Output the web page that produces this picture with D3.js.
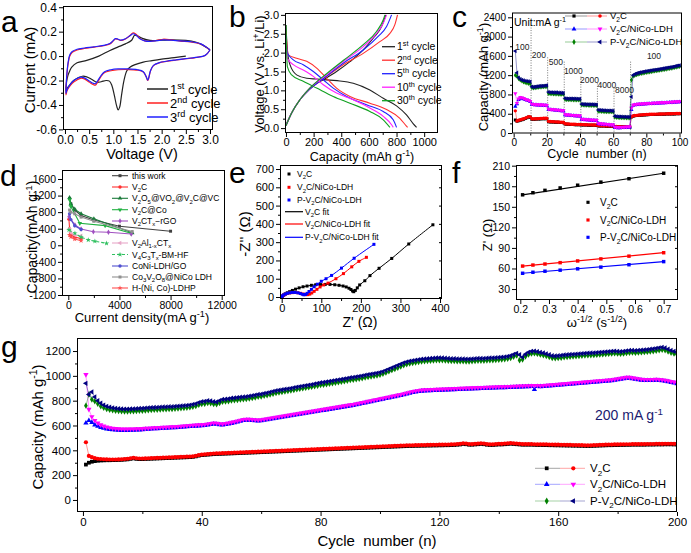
<!DOCTYPE html>
<html><head><meta charset="utf-8">
<script src="https://cdn.jsdelivr.net/npm/d3@7"></script>
<style>body{margin:0;background:#fff}svg{display:block}text{font-family:Arial,"Liberation Sans",sans-serif}</style>
</head><body><svg id="c" width="691" height="553"></svg>
<script>
// ================= DATA =================
// Panel a: cyclic voltammetry [V, mA]
const cvCycle1 = [[2.5,0.0],[2.3,-0.01],[2.0,-0.025],[1.8,-0.037],[1.62,-0.049],[1.45,-0.07],[1.35,-0.09],[1.28,-0.12],[1.22,-0.2],[1.17,-0.32],[1.13,-0.42],[1.1,-0.44],[1.07,-0.41],[1.02,-0.32],[0.97,-0.24],[0.92,-0.205],[0.85,-0.2],[0.75,-0.21],[0.66,-0.215],[0.55,-0.19],[0.45,-0.17],[0.36,-0.165],[0.28,-0.175],[0.18,-0.2],[0.1,-0.235],[0.05,-0.26],[0.02,-0.28],[0.03,-0.22],[0.06,-0.16],[0.1,-0.12],[0.14,-0.09],[0.25,-0.055],[0.45,-0.035],[0.7,0.0],[0.93,0.046],[1.1,0.075],[1.25,0.1],[1.38,0.13],[1.44,0.17],[1.5,0.165],[1.6,0.145],[1.76,0.128],[2.0,0.13],[2.17,0.133],[2.5,0.128],[2.7,0.115],[2.85,0.09],[2.95,0.065],[3.0,0.05]];
const cvCycle2 = [[3.0,0.05],[2.9,0.005],[2.7,-0.012],[2.5,-0.022],[2.3,-0.032],[2.1,-0.043],[1.95,-0.055],[1.83,-0.078],[1.77,-0.12],[1.73,-0.185],[1.71,-0.2],[1.68,-0.17],[1.62,-0.13],[1.5,-0.115],[1.3,-0.11],[1.1,-0.112],[0.95,-0.12],[0.82,-0.135],[0.74,-0.17],[0.68,-0.21],[0.63,-0.238],[0.58,-0.232],[0.5,-0.212],[0.4,-0.187],[0.32,-0.182],[0.24,-0.197],[0.15,-0.222],[0.08,-0.257],[0.04,-0.287],[0.02,-0.318],[0.025,-0.25],[0.04,-0.15],[0.07,-0.05],[0.1,0.0],[0.15,0.03],[0.25,0.05],[0.4,0.062],[0.6,0.073],[0.8,0.085],[0.93,0.1],[1.0,0.125],[1.04,0.14],[1.09,0.138],[1.15,0.128],[1.25,0.14],[1.35,0.17],[1.41,0.19],[1.47,0.178],[1.55,0.145],[1.65,0.125],[1.76,0.12],[1.9,0.128],[2.03,0.138],[2.2,0.132],[2.38,0.123],[2.6,0.116],[2.8,0.1],[2.93,0.07],[3.0,0.05]];
const cvCycle3 = [[3.0,0.05],[2.9,0.006],[2.7,-0.011],[2.5,-0.021],[2.3,-0.031],[2.1,-0.042],[1.95,-0.054],[1.83,-0.076],[1.77,-0.118],[1.73,-0.18],[1.71,-0.196],[1.68,-0.168],[1.62,-0.128],[1.5,-0.112],[1.3,-0.105],[1.1,-0.105],[0.95,-0.112],[0.82,-0.128],[0.74,-0.163],[0.68,-0.2],[0.63,-0.226],[0.58,-0.222],[0.5,-0.203],[0.4,-0.178],[0.32,-0.172],[0.24,-0.186],[0.15,-0.212],[0.08,-0.248],[0.04,-0.278],[0.02,-0.305],[0.025,-0.24],[0.04,-0.14],[0.07,-0.04],[0.1,0.01],[0.15,0.037],[0.25,0.056],[0.4,0.066],[0.6,0.076],[0.8,0.088],[0.93,0.103],[1.0,0.128],[1.04,0.143],[1.09,0.14],[1.15,0.13],[1.25,0.142],[1.35,0.168],[1.41,0.183],[1.47,0.172],[1.55,0.142],[1.65,0.124],[1.76,0.12],[1.9,0.126],[2.03,0.133],[2.2,0.13],[2.38,0.124],[2.6,0.118],[2.8,0.102],[2.93,0.072],[3.0,0.05]];
const cvLabels = ["1^{st} cycle","2^{nd} cycle","3^{rd} cycle"];

// Panel b: charge/discharge profiles [capacity mAh/g, V]
const gcd1D = [[0,2.73],[10,2.07],[29,1.68],[77,1.41],[150,1.32],[222,1.3],[318,1.27],[390,1.25],[487,1.19],[607,1.01],[704,0.79],[800,0.59],[872,0.35],[920,0.12],[945,0.02]];
const gcd1C = [[0,0.09],[41,0.4],[101,0.75],[173,1.06],[270,1.28],[366,1.5],[463,1.76],[559,2.07],[631,2.38],[692,2.69],[723,3.0]];
const gcd2D = [[0,2.56],[17,1.94],[77,1.85],[150,1.77],[222,1.59],[294,1.32],[366,1.06],[463,0.84],[607,0.66],[728,0.49],[824,0.26],[870,0.06],[880,0.02]];
const gcd2C = [[0,0.06],[41,0.4],[101,0.75],[173,1.03],[294,1.37],[414,1.68],[559,1.98],[679,2.29],[752,2.51],[788,2.74],[807,3.0]];
const gcd5D = [[0,2.47],[10,1.99],[53,1.81],[125,1.68],[198,1.5],[270,1.28],[342,1.06],[439,0.84],[583,0.62],[704,0.44],[776,0.22],[800,0.02]];
const gcd5C = [[0,0.06],[41,0.4],[101,0.75],[173,1.03],[294,1.38],[414,1.72],[559,2.07],[667,2.43],[728,2.69],[764,3.0]];
const gcd10D = [[0,2.38],[10,1.85],[53,1.68],[125,1.54],[198,1.37],[270,1.15],[366,0.93],[487,0.75],[607,0.53],[704,0.31],[764,0.09],[776,0.02]];
const gcd10C = [[0,0.06],[41,0.4],[101,0.75],[173,1.06],[294,1.41],[414,1.76],[559,2.16],[655,2.51],[704,2.78],[728,3.0]];
const gcd30D = [[0,2.73],[10,1.63],[41,1.41],[125,1.24],[222,1.06],[342,0.84],[463,0.66],[607,0.44],[704,0.22],[752,0.02]];
const gcd30C = [[0,0.06],[41,0.4],[101,0.75],[173,1.06],[294,1.44],[414,1.79],[559,2.21],[655,2.56],[704,2.87],[716,3.0]];
const gcdLabels = ["1^{st} cycle","2^{nd} cycle","5^{th} cycle","10^{th} cycle","30^{th} cycle"];

// Panel c: rate performance, cycles 1..100 (mAh/g)
const rateV2C_sq = [270,245,255,265,275,285,300,315,330,325, 287,285,287,289,291,293,295,297,297,297, 235,231,229,227,225,223,221,219,217,215, 185,182,180,178,176,175,174,173,172,170, 168,166,165,164,163,162,161,160,159,158, 148,146,145,144,143,142,141,140,139,138, 128,127,126,125,124,123,123,122,122,121, 330,348,356,361,365,368,371,374,376,378, 380,382,383,384,385,386,387,388,389,390, 391,392,393,394,395,396,397,398,399,400];
const rateV2C_ci = [460,250,265,275,285,295,310,325,340,335, 295,293,295,297,299,301,303,305,305,305, 242,238,236,234,232,230,228,226,224,222, 192,189,187,185,183,182,181,180,179,177, 175,173,172,171,170,169,168,167,166,165, 155,153,152,151,150,149,148,147,146,145, 135,134,133,132,131,130,130,129,129,128, 340,355,362,367,371,374,377,380,382,384, 386,388,389,390,391,392,393,394,395,396, 397,398,399,400,401,402,403,404,405,406];
const rateNiCo_up = [550,600,690,720,715,705,690,680,670,650, 590,585,582,580,578,576,574,572,570,568, 490,485,480,477,474,470,466,462,458,455, 375,370,367,364,361,358,355,352,350,348, 280,277,274,271,268,265,262,260,258,256, 190,186,182,178,175,172,169,166,164,162, 112,108,106,106,108,110,112,114,116,118, 480,570,580,585,590,593,596,599,601,603, 605,607,609,611,613,615,617,619,621,623, 625,627,629,631,633,635,637,639,641,643];
const rateNiCo_dn = [820,620,710,740,730,720,700,690,680,660, 600,595,590,590,588,586,584,582,580,578, 500,495,490,487,484,480,476,472,468,465, 385,380,377,374,371,368,365,362,360,358, 290,287,284,281,278,275,272,270,268,266, 200,196,192,188,185,182,179,176,174,172, 125,120,118,118,120,122,124,126,128,130, 520,580,590,595,600,603,606,609,611,613, 615,617,619,621,623,625,627,629,631,633, 635,637,639,641,643,645,647,649,651,653];
const rateP_di = [1200,1180,1130,1100,1080,1060,1050,1040,1030,1020, 940,935,940,945,950,955,955,960,965,968, 820,815,815,812,810,810,808,806,805,805, 700,695,695,692,692,690,690,688,688,688, 585,582,580,578,577,576,575,574,573,572, 455,452,450,448,446,445,444,443,442,440, 330,326,324,322,320,318,317,316,315,314, 1100,1180,1195,1210,1220,1230,1238,1245,1252,1258, 1264,1270,1276,1282,1288,1293,1298,1304,1310,1316, 1322,1328,1334,1340,1346,1352,1360,1368,1375,1382];
const rateP_lt = [1700,1250,1150,1120,1100,1090,1080,1075,1070,1065, 960,955,960,965,970,975,975,980,985,990, 850,845,845,840,840,840,835,835,830,830, 720,715,715,715,715,712,712,710,710,710, 600,598,597,596,595,594,593,592,590,590, 480,475,472,470,468,466,465,463,462,460, 350,345,342,340,338,336,335,333,332,330, 750,1200,1220,1235,1245,1255,1262,1270,1276,1282, 1288,1294,1300,1305,1310,1315,1320,1326,1332,1338, 1344,1350,1356,1362,1368,1374,1382,1390,1398,1405];
const rateSeriesNames = ["V_{2}C","V_{2}C/NiCo-LDH","P-V_{2}C/NiCo-LDH"];
const rateSteps = ["100","200","500","1000","2000","4000","8000","100"];
const rateStepLabelAt = [[5.3,1790],[15.2,1618],[25.5,1479],[36,1286],[45.7,1100],[56.2,996],[66.8,892],[84.6,1598]];
const rateDividers = [[10.5,2240],[20.5,1570],[30.5,1480],[40.5,1170],[50.5,1030],[60.5,930],[70.5,1480]];

// Panel d: comparison [current density mA/g, capacity mAh/g]
const cmpNames = ["this work","V_{2}C","V_{2}O_{5}@VO_{2}@V_{2}C@VC","V_{2}C@Co","V_{2}CT_{x}−rGO","V_{2}Al_{1-x}CT_{x}","V_{4}C_{3}T_{x}-BM-HF","CoNi-LDH/GO","Co_{3}V_{2}O_{8}@NiCo LDH","H-(Ni, Co)-LDHP"];
const cmpThisWork = [[100,1130],[200,1000],[500,850],[1000,720],[2000,610],[4000,460],[8000,340]];
const cmpV2C = [[50,630],[100,400],[200,260],[500,200],[1000,160]];
const cmpV2O5 = [[100,1150],[200,1000],[500,870],[1000,760],[2000,640],[5000,300]];
const cmpV2CCo = [[100,1100],[200,937],[900,530],[2880,475],[4900,290]];
const cmpV2CrGO = [[50,690],[520,490],[1000,393],[1960,328],[3140,313],[4930,273]];
const cmpV2Al = [[100,400],[200,300],[500,250],[1000,230]];
const cmpV4C3 = [[50,370],[520,290],[1000,195],[1560,128],[2080,97],[2990,48]];
const cmpCoNi = [[100,760],[200,620],[500,470],[1000,380]];
const cmpCo3V2O8 = [[100,850],[200,800],[500,760],[1000,680],[2000,580],[5000,330]];
const cmpHNiCo = [[100,250],[200,200],[500,150],[1000,110]];

// Panel e: Nyquist [Z', -Z''] (ohm)
const eisV2C = [[0,1],[2,5],[5,11],[9,17],[14,23],[20,29],[27,36],[35,43],[44,50],[54,56],[64,60],[75,64],[86,67],[98,68],[110,69],[122,69],[134,67],[145,64],[155,60],[163,55],[170,48],[175,41],[179,33],[182,29],[186,36],[191,50],[197,66],[210,89],[223,117],[246,157],[278,211],[321,290],[382,395]];
const eisNiCo = [[0,1],[2,5],[5,10],[9,15],[14,19],[20,22],[27,24],[34,25],[41,23],[48,20],[55,16],[61,13],[66,13],[71,16],[76,22],[82,31],[89,42],[97,55],[106,66],[117,76],[137,100],[156,128],[177,165],[195,195],[214,217]];
const eisP = [[0,1],[2,6],[5,11],[9,16],[14,20],[20,23],[27,25],[34,25],[41,23],[47,19],[52,15],[56,12],[60,14],[64,20],[69,30],[75,42],[82,56],[90,70],[100,86],[112,100],[126,118],[151,158],[183,212],[233,288]];
const eisNames = ["V_{2}C","V_{2}C/NiCo-LDH","P-V_{2}C/NiCo-LDH","V_{2}C fit","V_{2}C/NiCo-LDH fit","P-V_{2}C/NiCo-LDH fit"];

// Panel f: Z' vs omega^-1/2
const wInv = [0.208,0.244,0.286,0.339,0.40,0.481,0.579,0.70];
const zreV2C = [167.5,170.5,174,177.5,181.5,186,191,199];
const zreNiCo = [63.5,65,66.5,68.5,71,74,78,83];
const zreP = [53,54.5,56,57.5,59.5,62,65.5,70];

// Panel g: long cycling at 200 mA/g, cycles 1..200
const cyc_V2C_sq = [285,300,308,313,316,318,319,320,320,321, 321,322,323,325,327,331,335,331,329,329, 330,331,332,333,334,335,336,337,338,339, 340,341,342,343,344,345,347,351,357,361, 363,365,367,369,370,371,372,373,374,375, 376,377,378,379,380,381,382,383,384,385, 386,387,388,389,390,391,392,393,394,395, 396,397,398,399,400,401,402,403,404,405, 406,407,408,409,410,411,412,413,414,415, 416,417,418,419,420,421,422,423,424,425, 426,427,428,429,430,431,432,433,434,435, 435,436,436,437,437,438,438,439,439,440, 440,441,441,442,443,445,447,451,449,445, 445,447,449,451,449,445,443,443,445,447, 447,449,451,453,451,449,447,445,445,445, 445,444,443,443,442,442,441,441,440,440, 439,439,438,438,437,437,436,436,435,435, 435,436,437,438,439,440,441,441,442,442, 443,443,444,444,445,445,445,445,445,446, 446,446,447,447,447,448,448,448,447,447];
const cyc_V2C_ci = [465,355,345,337,332,330,328,327,326,326, 326,327,328,330,332,336,340,336,334,334, 335,336,337,338,339,340,341,342,343,344, 345,346,347,348,349,350,352,356,362,366, 368,370,372,374,375,376,377,378,379,380, 381,382,383,384,385,386,387,388,389,390, 391,392,393,394,395,396,397,398,399,400, 401,402,403,404,405,406,407,408,409,410, 411,412,413,414,415,416,417,418,419,420, 421,422,423,424,425,426,427,428,429,430, 431,432,433,434,435,436,437,438,439,440, 440,441,441,442,442,443,443,444,444,445, 445,446,446,447,448,450,452,456,454,450, 450,452,454,456,454,450,448,448,450,452, 452,454,456,458,456,454,452,450,450,450, 450,449,448,448,447,447,446,446,445,445, 444,444,443,443,442,442,441,441,440,440, 440,441,442,443,444,445,446,446,447,447, 448,448,449,449,450,450,450,450,450,451, 451,451,452,452,452,453,453,453,452,452];
const cyc_NiCo_up = [620,640,625,605,595,585,578,572,568,565, 563,561,560,560,560,561,562,563,564,565, 569,570,572,573,574,576,577,578,580,581, 582,584,586,588,590,592,594,595,597,598, 600,604,608,612,610,606,604,608,612,617, 622,628,634,640,642,642,640,638,636,638, 642,646,650,654,658,662,666,670,674,678, 682,686,690,694,698,702,706,710,714,718, 722,726,730,734,738,742,746,750,754,758, 762,767,772,777,782,787,792,797,802,807, 812,817,822,827,832,837,842,848,854,860, 866,870,874,877,879,880,881,882,883,884, 885,886,887,888,889,890,891,892,893,894, 895,896,897,898,899,900,901,902,903,904, 904,905,906,907,908,909,910,911,912,913, 914,890,914,913,914,916,918,920,922,924, 926,928,930,932,934,936,938,940,942,944, 946,948,950,952,954,956,958,960,964,968, 972,976,980,980,976,972,968,964,962,962, 962,963,964,962,960,956,952,947,942,937];
const cyc_NiCo_dn = [1010,730,670,640,620,605,595,587,582,578, 575,573,572,571,571,572,572,573,574,575, 577,578,580,581,582,584,585,586,588,589, 590,592,594,596,598,600,602,603,605,606, 608,612,616,620,618,614,612,616,620,625, 630,636,642,648,650,650,648,646,644,646, 650,654,658,662,666,670,674,678,682,686, 690,694,698,702,706,710,714,718,722,726, 730,734,738,742,746,750,754,758,762,766, 770,775,780,785,790,795,800,805,810,815, 820,825,830,835,840,845,850,856,862,868, 874,878,882,885,887,888,889,890,891,892, 893,894,895,896,897,898,899,900,901,902, 903,904,905,906,907,908,909,910,911,912, 912,913,914,915,916,917,918,919,920,921, 922,923,922,921,922,924,926,928,930,932, 934,936,938,940,942,944,946,948,950,952, 954,956,958,960,962,964,966,968,972,976, 980,984,988,988,984,980,976,972,970,970, 970,971,972,970,968,964,960,955,950,945];
const cyc_P_di = [760,850,810,795,775,755,742,733,727,722, 718,716,714,713,713,714,715,716,718,719, 721,723,725,726,727,729,731,731,733,733, 735,737,739,741,743,746,751,756,766,773, 776,781,779,773,771,781,791,793,796,801, 803,806,809,811,813,817,821,826,831,833, 839,843,849,855,861,865,869,873,877,881, 886,891,895,899,903,907,911,916,921,926, 929,933,937,941,945,949,953,957,961,966, 969,973,977,981,986,991,995,999,1003,1009, 1016,1026,1036,1046,1056,1066,1076,1086,1093,1099, 1103,1107,1111,1115,1117,1119,1121,1123,1125,1126, 1125,1123,1121,1119,1119,1118,1117,1117,1116,1116, 1117,1119,1121,1121,1121,1123,1125,1126,1127,1129, 1131,1133,1137,1143,1153,1163,1125,1131,1156,1171, 1179,1181,1177,1171,1166,1159,1151,1143,1141,1143, 1146,1149,1151,1153,1155,1157,1159,1161,1163,1165, 1166,1167,1169,1171,1173,1175,1177,1179,1181,1179, 1177,1179,1183,1186,1187,1185,1187,1189,1191,1193, 1196,1199,1203,1207,1211,1206,1196,1186,1179,1173];
const cyc_P_lt = [940,850,870,830,800,780,765,755,748,742, 738,735,733,732,732,733,734,735,737,738, 740,742,744,745,746,748,750,750,752,752, 754,756,758,760,762,765,770,775,785,792, 795,800,798,792,790,800,810,812,815,820, 822,825,828,830,832,836,840,845,850,852, 858,862,868,874,880,884,888,892,896,900, 905,910,914,918,922,926,930,935,940,945, 948,952,956,960,964,968,972,976,980,985, 988,992,996,1000,1005,1010,1014,1018,1022,1028, 1035,1045,1055,1065,1075,1085,1095,1105,1112,1118, 1122,1126,1130,1134,1136,1138,1140,1142,1144,1145, 1144,1142,1140,1138,1138,1137,1136,1136,1135,1135, 1136,1138,1140,1140,1140,1142,1144,1145,1146,1148, 1150,1152,1156,1162,1172,1182,1170,1150,1175,1190, 1198,1200,1196,1190,1185,1178,1170,1162,1160,1162, 1165,1168,1170,1172,1174,1176,1178,1180,1182,1184, 1185,1186,1188,1190,1192,1194,1196,1198,1200,1198, 1196,1198,1202,1205,1206,1204,1206,1208,1210,1212, 1215,1218,1222,1226,1230,1225,1215,1205,1198,1192];

// ================= HELPERS =================
const svg = d3.select('#c');
let clipN = 0;
function rich(t, s, fs){
  const parts = s.split(/(_\{[^}]*\}|\^\{[^}]*\})/).filter(p=>p.length);
  let cur = 0;
  for (const p of parts){
    let target = 0, txt = p, small = false;
    if (p[0]==='_' && p[1]==='{'){ target = fs*0.28; txt = p.slice(2,-1); small = true; }
    else if (p[0]==='^' && p[1]==='{'){ target = -fs*0.38; txt = p.slice(2,-1); small = true; }
    const ts = t.append('tspan').attr('dy', target-cur).text(txt);
    if (small) ts.attr('font-size', fs*0.7);
    cur = target;
  }
}
function label(txt, x, y, fs, opt={}){
  const t = svg.append('text').attr('font-size',fs).attr('fill',opt.color||'#000')
    .attr('text-anchor',opt.anchor||'start').style('white-space','pre');
  if (opt.rot) t.attr('transform',`translate(${x},${y}) rotate(${opt.rot})`);
  else t.attr('x',x).attr('y',y);
  rich(t, txt, fs);
  return t;
}
const num = v => String(+v.toFixed(6));
function makePanel(o){
  const x = d3.scaleLinear().domain(o.xd).range([o.l,o.r]);
  const y = d3.scaleLinear().domain(o.yd).range([o.b,o.t]);
  const id = 'clip'+(++clipN);
  svg.append('clipPath').attr('id',id).append('rect')
    .attr('x',o.l).attr('y',o.t).attr('width',o.r-o.l).attr('height',o.b-o.t);
  const data = svg.append('g').attr('clip-path',`url(#${id})`);
  const top = svg.append('g');
  const tf = o.tfs||11;
  const style = sel => { sel.select('.domain').remove(); sel.attr('font-size',tf).attr('font-family','Arial, "Liberation Sans", sans-serif'); sel.selectAll('line').attr('stroke','#000'); sel.selectAll('text').attr('fill','#000'); };
  if (o.xm) top.append('g').attr('transform',`translate(0,${o.b})`).call(d3.axisBottom(x).tickValues(o.xm).tickSize(2).tickFormat('')).call(style);
  if (o.ym) top.append('g').attr('transform',`translate(${o.l},0)`).call(d3.axisLeft(y).tickValues(o.ym).tickSize(2).tickFormat('')).call(style);
  top.append('g').attr('transform',`translate(0,${o.b})`).call(d3.axisBottom(x).tickValues(o.xt).tickSize(4).tickPadding(1.5).tickFormat(o.xf||num)).call(style);
  top.append('g').attr('transform',`translate(${o.l},0)`).call(d3.axisLeft(y).tickValues(o.yt).tickSize(4).tickPadding(2).tickFormat(o.yf||num)).call(style);
  if (o.rightTicks) top.append('g').attr('transform',`translate(${o.r},0)`).call(d3.axisLeft(y).tickValues(o.yt).tickSize(3).tickFormat('')).call(style);
  top.append('rect').attr('x',o.l+0.5).attr('y',o.t+0.5).attr('width',o.r-o.l-1).attr('height',o.b-o.t-1)
    .attr('fill','none').attr('stroke','#000').attr('stroke-width',1);
  return {x,y,data,top};
}
const SYM = {square:[d3.symbolSquare,0], circle:[d3.symbolCircle,0], up:[d3.symbolTriangle,0], down:[d3.symbolTriangle,180], left:[d3.symbolTriangle,-90], diamond:[d3.symbolDiamond,0], star:[d3.symbolStar,0], hex:[d3.symbolCircle,0]};
function marks(layer, pts, sym, size, color){
  const [type, rot] = SYM[sym];
  const p = d3.symbol().type(type).size(size)();
  layer.append('g').selectAll('path').data(pts).join('path')
    .attr('d',p).attr('transform',d=>`translate(${d[0]},${d[1]}) rotate(${rot})`).attr('fill',color);
}
const f1 = v => (v<0?'-':'') + Math.abs(v).toFixed(1);
const fi = v => (v<0?'-':'') + Math.abs(v);
const LET = 30;

// ================= PANEL a =================
{
  const P = makePanel({l:63,r:213,t:6,b:130,xd:[-0.041,3.062],yd:[-0.605,0.41],
    xt:[0,0.5,1,1.5,2,2.5,3],xm:[0.25,0.75,1.25,1.75,2.25,2.75],
    yt:[-0.6,-0.4,-0.2,0,0.2,0.4],ym:[-0.5,-0.3,-0.1,0.1,0.3],xf:f1,yf:f1,tfs:12});
  const line = d3.line().x(d=>P.x(d[0])).y(d=>P.y(d[1])).curve(d3.curveCatmullRom.alpha(0.5));
  const cols = ['#222','#ff2020','#2020ff'];
  [cvCycle1,cvCycle2,cvCycle3].forEach((c,i)=>P.data.append('path').attr('d',line(c)).attr('fill','none').attr('stroke',cols[i]).attr('stroke-width',1.2));
  cvLabels.forEach((s,i)=>{
    const yy = 89 + i*14;
    svg.append('line').attr('x1',147).attr('x2',168).attr('y1',yy).attr('y2',yy).attr('stroke',cols[i]).attr('stroke-width',1.5);
    label(s,170,yy+4.5,13);
  });
  label('Current (mA)',35,70,15,{rot:-90,anchor:'middle'});
  label('Voltage (V)',142,159,14.5,{anchor:'middle'});
  label('a',1,32,LET);
}
// ================= PANEL b =================
{
  const P = makePanel({l:285,r:438,t:13,b:133,xd:[-7,1100],yd:[-0.13,3.05],
    xt:[0,200,400,600,800,1000],xm:[100,300,500,700,900],
    yt:[0,0.5,1,1.5,2,2.5,3],ym:[0.25,0.75,1.25,1.75,2.25,2.75],yf:f1,tfs:11});
  const line = d3.line().x(d=>P.x(d[0])).y(d=>P.y(d[1])).curve(d3.curveMonotoneX);
  const cols = ['#222','#ff3030','#2020ff','#ff20ff','#10a020'];
  const sets = [[gcd1D,gcd1C],[gcd2D,gcd2C],[gcd5D,gcd5C],[gcd10D,gcd10C],[gcd30D,gcd30C]];
  sets.forEach((s,i)=>s.forEach(c=>P.data.append('path').attr('d',line(c)).attr('fill','none').attr('stroke',cols[i]).attr('stroke-width',1.1)));
  gcdLabels.forEach((s,i)=>{
    const yy = 46.7 + i*13.5;
    svg.append('line').attr('x1',382).attr('x2',395).attr('y1',yy).attr('y2',yy).attr('stroke',cols[i]).attr('stroke-width',1.3);
    label(s,397,yy+3.7,10.5);
  });
  label('Voltage (V vs. Li^{+}/Li)',264,74,13,{rot:-90,anchor:'middle'});
  label('Capacity (mAh g^{-1})',362,160.5,12.5,{anchor:'middle'});
  label('b',229,27,LET);
}
// ================= PANEL c =================
{
  const P = makePanel({l:512,r:682,t:12.5,b:133.5,xd:[-1,101.5],yd:[-10,2500],
    xt:[0,20,40,60,80,100],xm:[10,30,50,70,90],
    yt:[0,400,800,1200,1600,2000,2400],ym:[200,600,1000,1400,1800,2200],tfs:10});
  rateDividers.forEach(d=>P.data.append('line').attr('x1',P.x(d[0])).attr('x2',P.x(d[0])).attr('y1',P.y(d[1])).attr('y2',P.y(0))
    .attr('stroke','#555').attr('stroke-width',0.8).attr('stroke-dasharray','1,1.5'));
  rateSteps.forEach((s,i)=>svg.append('text').attr('x',P.x(rateStepLabelAt[i][0])).attr('y',P.y(rateStepLabelAt[i][1])+3)
    .attr('font-size',8.5).attr('text-anchor','middle').attr('fill','#222').text(s));
  const series = [[rateV2C_sq,'square','#000'],[rateV2C_ci,'circle','#ff0000'],[rateNiCo_up,'up','#0000ff'],[rateNiCo_dn,'down','#ff00ff'],[rateP_di,'diamond','#008000'],[rateP_lt,'left','#000080']];
  const line = d3.line().x(d=>d[0]).y(d=>d[1]);
  series.forEach(([v,sym,col])=>{
    const pts = v.map((d,i)=>[P.x(i+1),P.y(d)]);
    P.data.append('path').attr('d',line(pts)).attr('fill','none').attr('stroke',col).attr('stroke-width',0.7).attr('opacity',0.6);
    marks(P.data,pts,sym,sym==='circle'||sym==='square'?9:8,col);
  });
  rateSeriesNames.forEach((s,i)=>{
    const yy = 16 + i*13;
    const c1 = series[i*2][2], c2 = series[i*2+1][2];
    svg.append('line').attr('x1',565).attr('x2',587).attr('y1',yy).attr('y2',yy).attr('stroke',c1).attr('opacity',0.4);
    svg.append('line').attr('x1',587).attr('x2',607).attr('y1',yy).attr('y2',yy).attr('stroke',c2).attr('opacity',0.4);
    marks(svg,[[574,yy]],series[i*2][1],10,c1);
    marks(svg,[[600,yy]],series[i*2+1][1],10,c2);
    label(s,610,yy+3.3,9.5);
  });
  label('Unit:mA g^{-1}',514,26,10.5);
  label('Capacity (mAh g^{-1})',488,77,13,{rot:-90,anchor:'middle'});
  label('Cycle  number (n)',597,158,12.5,{anchor:'middle'});
  label('c',452,27,LET);
}
// ================= PANEL d =================
{
  const P = makePanel({l:62,r:225,t:170,b:296,xd:[-493,12258],yd:[-1224,1817],
    xt:[0,4000,8000,12000],xm:[2000,6000,10000],
    yt:[-1200,-800,-400,0,400,800,1200,1600],ym:[-1000,-600,-200,200,600,1000,1400],yf:fi,tfs:10.5});
  const sets = [
    [cmpThisWork,'#404040','square',false],[cmpV2C,'#ff3030','circle',false],[cmpV2O5,'#1a7a3a','up',false],
    [cmpV2CCo,'#20b040','down',false],[cmpV2CrGO,'#a050c0','diamond',false],[cmpV2Al,'#e8a8c8','left',false],
    [cmpV4C3,'#30c060','star',true],[cmpCoNi,'#5050d0','hex',false],[cmpCo3V2O8,'#909090','square',false],[cmpHNiCo,'#ff5050','star',false]];
  const line = d3.line().x(d=>P.x(d[0])).y(d=>P.y(d[1]));
  sets.forEach(([pts,col,sym,dash])=>{
    P.data.append('path').attr('d',line(pts)).attr('fill','none').attr('stroke',col).attr('stroke-width',1.1).attr('stroke-dasharray',dash?'3,2':null);
    marks(P.data,pts.map(d=>[P.x(d[0]),P.y(d[1])]),sym,9,col);
  });
  const rows = [175.7,187,198.3,209.7,221,243,254.5,266,277,288];
  cmpNames.forEach((s,i)=>{
    const [,col,sym,dash] = sets[i];
    svg.append('line').attr('x1',112).attr('x2',128).attr('y1',rows[i]).attr('y2',rows[i]).attr('stroke',col).attr('stroke-width',1.1).attr('stroke-dasharray',dash?'3,2':null);
    marks(svg,[[120,rows[i]]],sym,9,col);
    label(s,132,rows[i]+3,8.5);
  });
  label('Capacity(mAh g^{-1})',37,237,14,{rot:-90,anchor:'middle'});
  label('Current density(mA g^{-1})',142,322,13,{anchor:'middle'});
  label('d',0,186,LET);
}
// ================= PANEL e =================
{
  const P = makePanel({l:280,r:442,t:165,b:299,xd:[-4.3,405],yd:[-10.9,722],
    xt:[0,100,200,300,400],xm:[50,150,250,350],
    yt:[0,100,200,300,400,500,600,700],ym:[50,150,250,350,450,550,650],tfs:11,rightTicks:true});
  const line = d3.line().x(d=>P.x(d[0])).y(d=>P.y(d[1])).curve(d3.curveCatmullRom.alpha(0.5));
  const sets = [[eisV2C,'#000'],[eisNiCo,'#ff0000'],[eisP,'#0000ff']];
  sets.forEach(([pts,col])=>{
    P.data.append('path').attr('d',line(pts)).attr('fill','none').attr('stroke',col).attr('stroke-width',1);
    marks(P.data,pts.map(d=>[P.x(d[0]),P.y(d[1])]),'square',9,col);
  });
  const rowsA = [174,187.3,200];
  rowsA.forEach((yy,i)=>{ marks(svg,[[289,yy]],'square',9,sets[i][1]); label(eisNames[i],297,yy+3,8.5); });
  const rowsB = [211.7,224,237.3];
  rowsB.forEach((yy,i)=>{ svg.append('line').attr('x1',285).attr('x2',303).attr('y1',yy).attr('y2',yy).attr('stroke',sets[i][1]).attr('stroke-width',1.2); label(eisNames[i+3],305,yy+3,8.5); });
  label("-Z'' (Ω)",250,234,15,{rot:-90,anchor:'middle'});
  label("Z' (Ω)",360,327,14,{anchor:'middle'});
  label('e',229,183,LET);
}
// ================= PANEL f =================
{
  const P = makePanel({l:516,r:678,t:165,b:300,xd:[0.185,0.75],yd:[14,211],
    xt:[0.2,0.3,0.4,0.5,0.6,0.7],xm:[0.25,0.35,0.45,0.55,0.65],
    yt:[30,60,90,120,150,180,210],ym:[45,75,105,135,165,195],xf:f1,tfs:10.5,rightTicks:true});
  const sets = [[zreV2C,'#000'],[zreNiCo,'#ff0000'],[zreP,'#0000ff']];
  sets.forEach(([v,col])=>{
    const pts = v.map((d,i)=>[P.x(wInv[i]),P.y(d)]);
    P.data.append('line').attr('x1',pts[0][0]).attr('y1',pts[0][1]).attr('x2',pts[pts.length-1][0]).attr('y2',pts[pts.length-1][1]).attr('stroke',col).attr('stroke-width',1.2);
    marks(P.data,pts,'square',12,col);
  });
  const names = ["V_{2}C","V_{2}C/NiCo-LDH","P-V_{2}C/NiCo-LDH"];
  [202.3,220,237.3].forEach((yy,i)=>{ marks(svg,[[588,yy]],'square',10,sets[i][1]); label(names[i],600,yy+3.5,10); });
  label("Z' (Ω)",492,235,13,{rot:-90,anchor:'middle'});
  label('ω^{-1/2} (s^{-1/2})',597,327,13,{anchor:'middle'});
  label('f',452,183,LET);
}
// ================= PANEL g =================
{
  const P = makePanel({l:77,r:677,t:338,b:512,xd:[-2,200],yd:[-97,1305],
    xt:[0,40,80,120,160,200],xm:[20,60,100,140,180],
    yt:[0,200,400,600,800,1000,1200],ym:[100,300,500,700,900,1100],tfs:11.5});
  const series = [[cyc_V2C_sq,'square','#000'],[cyc_V2C_ci,'circle','#ff0000'],[cyc_NiCo_up,'up','#0000ff'],[cyc_NiCo_dn,'down','#ff00ff'],[cyc_P_di,'diamond','#008000'],[cyc_P_lt,'left','#000080']];
  const line = d3.line().x(d=>d[0]).y(d=>d[1]);
  series.forEach(([v,sym,col])=>{
    const pts = v.map((d,i)=>[P.x(i+1),P.y(d)]);
    P.data.append('path').attr('d',line(pts)).attr('fill','none').attr('stroke',col).attr('stroke-width',0.7).attr('opacity',0.6);
    marks(P.data,pts,sym,sym==='circle'||sym==='square'?14:12,col);
  });
  const names = ["V_{2}C","V_{2}C/NiCo-LDH","P-V_{2}C/NiCo-LDH"];
  [468.3,484.3,501].forEach((yy,i)=>{
    const c1 = series[i*2][2], c2 = series[i*2+1][2];
    svg.append('line').attr('x1',535).attr('x2',560).attr('y1',yy).attr('y2',yy).attr('stroke',c1).attr('opacity',0.35);
    svg.append('line').attr('x1',560).attr('x2',585).attr('y1',yy).attr('y2',yy).attr('stroke',c2).attr('opacity',0.35);
    marks(svg,[[546.7,yy]],series[i*2][1],14,c1);
    marks(svg,[[573.3,yy]],series[i*2+1][1],14,c2);
    label(names[i],590,yy+4,11.5);
  });
  label('200 mA g^{-1}',595,420,14,{color:'#1a1a70'});
  label('Capacity (mAh g^{-1})',43,427,15,{rot:-90,anchor:'middle'});
  label('Cycle  number (n)',377,546,15,{anchor:'middle'});
  label('g',1,357,LET);
}
</script></body></html>
